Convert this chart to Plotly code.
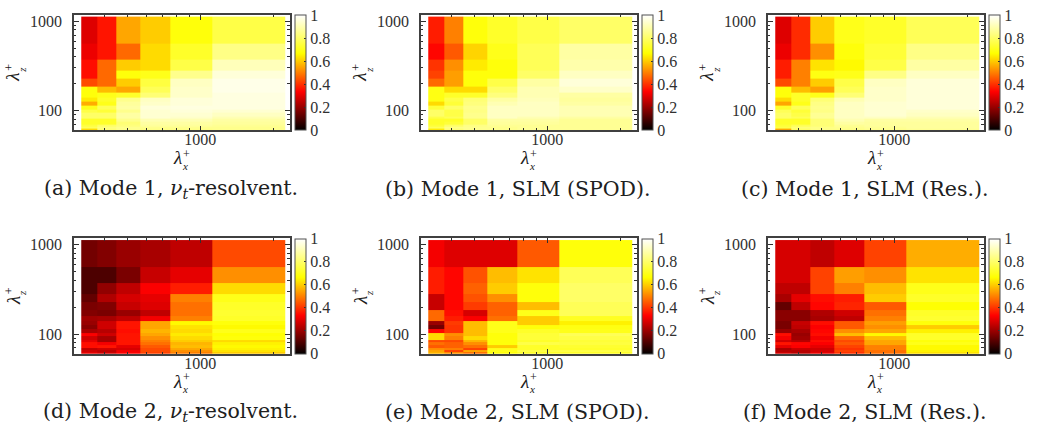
import plotly.graph_objects as go

x_edges = [321.4, 375, 450, 562.5, 750, 1125, 2250]
y_edges = [59.2, 62.5, 66.2, 70.3, 75, 80.4, 86.5, 93.8, 102.3, 112.5, 125, 140.6, 160.7, 187.5, 225, 281.3, 375, 562.5, 1125]

# rows listed from the top of each map (longest spanwise wavelength) downwards
mode1_resolvent = [
    [.29,.36,.55,.60,.68,.76],[.31,.36,.47,.62,.72,.84],[.35,.47,.60,.62,.76,.91],
    [.35,.47,.68,.70,.85,.95],[.43,.47,.60,.75,.92,.97],[.68,.58,.55,.78,.93,.97],
    [.68,.70,.72,.82,.93,.96],[.64,.72,.85,.92,.95,.96],[.56,.70,.87,.93,.95,.96],
    [.70,.78,.88,.95,.96,.96],[.76,.74,.85,.94,.95,.94],[.80,.80,.88,.94,.94,.92],
    [.80,.80,.88,.94,.93,.90],[.72,.72,.85,.90,.90,.88],[.72,.72,.82,.88,.88,.87],
    [.75,.80,.83,.87,.87,.86],[.78,.83,.85,.85,.85,.85],[.62,.82,.85,.84,.84,.85]]
mode1_slm_spod = [
    [.37,.50,.68,.72,.76,.80],[.34,.45,.61,.70,.78,.88],[.40,.52,.64,.68,.78,.89],
    [.42,.54,.68,.68,.80,.92],[.47,.54,.68,.76,.88,.95],[.69,.62,.62,.80,.90,.93],
    [.69,.72,.72,.83,.90,.88],[.69,.76,.82,.88,.91,.87],[.62,.74,.83,.90,.92,.88],
    [.74,.80,.85,.92,.92,.90],[.80,.76,.84,.92,.92,.90],[.80,.76,.85,.92,.92,.90],
    [.76,.78,.85,.92,.90,.88],[.72,.72,.80,.88,.88,.86],[.72,.74,.80,.87,.87,.86],
    [.74,.80,.84,.86,.86,.86],[.78,.84,.85,.85,.86,.86],[.64,.82,.85,.85,.86,.86]]
mode1_slm_res = [
    [.29,.39,.60,.70,.72,.78],[.31,.39,.52,.68,.74,.84],[.37,.50,.63,.66,.76,.88],
    [.37,.50,.69,.70,.84,.92],[.43,.50,.60,.76,.92,.95],[.68,.58,.54,.78,.93,.95],
    [.68,.72,.70,.82,.93,.95],[.62,.72,.82,.90,.93,.95],[.55,.70,.84,.92,.94,.95],
    [.72,.78,.85,.92,.94,.95],[.78,.74,.84,.92,.94,.93],[.80,.76,.86,.92,.94,.92],
    [.80,.78,.86,.92,.92,.90],[.72,.72,.82,.90,.88,.88],[.72,.72,.82,.88,.87,.87],
    [.74,.78,.82,.86,.87,.87],[.76,.82,.84,.85,.86,.87],[.55,.80,.84,.84,.85,.86]]
mode2_resolvent = [
    [.15,.17,.20,.22,.25,.43],[.10,.10,.16,.26,.30,.52],[.10,.19,.25,.33,.37,.62],
    [.13,.23,.28,.30,.50,.70],[.16,.17,.26,.29,.48,.72],[.17,.16,.20,.25,.48,.73],
    [.21,.22,.25,.32,.50,.72],[.20,.27,.36,.55,.66,.68],[.18,.27,.36,.55,.63,.66],
    [.22,.24,.35,.57,.62,.70],[.33,.27,.36,.55,.64,.67],[.27,.22,.36,.52,.62,.68],
    [.30,.22,.36,.50,.60,.62],[.35,.32,.36,.48,.57,.65],[.35,.36,.30,.45,.58,.66],
    [.25,.27,.28,.43,.55,.65],[.27,.25,.32,.43,.52,.63],[.30,.27,.33,.42,.50,.60]]
mode2_slm_spod = [
    [.32,.29,.29,.29,.45,.68],[.37,.34,.44,.58,.63,.78],[.37,.34,.46,.60,.68,.80],
    [.26,.34,.44,.52,.68,.80],[.26,.34,.41,.46,.58,.78],[.47,.35,.28,.46,.70,.78],
    [.47,.37,.33,.48,.60,.71],[.20,.41,.58,.70,.60,.65],[.15,.40,.58,.70,.68,.69],
    [.34,.40,.58,.70,.72,.70],[.62,.52,.58,.68,.74,.78],[.62,.50,.62,.68,.74,.76],
    [.43,.43,.57,.68,.72,.74],[.48,.46,.52,.68,.76,.75],[.45,.46,.48,.60,.72,.73],
    [.52,.50,.42,.70,.72,.72],[.55,.42,.55,.70,.76,.76],[.57,.52,.48,.68,.72,.72]]
mode2_slm_res = [
    [.28,.28,.25,.29,.42,.56],[.28,.28,.42,.54,.52,.63],[.25,.25,.42,.50,.58,.70],
    [.22,.30,.35,.37,.60,.72],[.13,.25,.34,.38,.45,.67],[.18,.18,.23,.27,.48,.72],
    [.18,.18,.22,.25,.50,.73],[.16,.26,.35,.45,.54,.68],[.16,.25,.33,.45,.52,.60],
    [.20,.22,.34,.52,.55,.65],[.35,.20,.35,.58,.66,.72],[.32,.21,.32,.47,.58,.72],
    [.27,.24,.35,.43,.55,.68],[.36,.34,.33,.45,.55,.70],[.30,.33,.30,.42,.50,.66],
    [.22,.26,.27,.40,.50,.66],[.24,.24,.28,.42,.48,.65],[.27,.24,.30,.40,.48,.63]]

captions = ["(a) Mode 1, <i>ν<sub>t</sub></i>-resolvent.", "(b) Mode 1, SLM (SPOD).", "(c) Mode 1, SLM (Res.).",
            "(d) Mode 2, <i>ν<sub>t</sub></i>-resolvent.", "(e) Mode 2, SLM (SPOD).", "(f) Mode 2, SLM (Res.)."]
panels = [mode1_resolvent, mode1_slm_spod, mode1_slm_res, mode2_resolvent, mode2_slm_spod, mode2_slm_res]

hot = [[0, "#000000"], [1/3, "#ff0000"], [2/3, "#ffff00"], [1, "#ffffff"]]
W, H = 1039, 425
FONT = "Liberation Serif"
CAPFONT = "DejaVu Serif"
INK = "#303030"
lefts = [74, 421, 768]
tops = [13, 237.5]
pw, ph = 215.5, 116

fig = go.Figure()
ann = []
def text(x, y, s, size, angle=0, family=FONT):
    ann.append(dict(x=x/W, y=1-y/H, xref="paper", yref="paper", text=s, showarrow=False,
                    font=dict(family=family, size=size, color="#202020"), textangle=angle,
                    xanchor="center", yanchor="middle", borderpad=0))

for i, z in enumerate(panels):
    r, c = divmod(i, 3)
    L, T = lefts[c], tops[r]
    n = "" if i == 0 else str(i+1)
    fig.add_trace(go.Heatmap(
        x=x_edges, y=y_edges, z=z[::-1], zmin=0, zmax=1, colorscale=hot,
        xaxis="x"+n, yaxis="y"+n, hoverinfo="skip",
        colorbar=dict(x=(L+pw+5.5)/W, xanchor="left", xpad=0, ypad=0, y=1-(T+ph/2)/H, yanchor="middle",
                      len=ph/H, lenmode="fraction", thickness=11, thicknessmode="pixels",
                      outlinecolor="#505050", outlinewidth=1, borderwidth=0,
                      tickvals=[0,.2,.4,.6,.8,1], ticktext=["0","0.2","0.4","0.6","0.8","1"],
                      ticks="inside", ticklen=2, tickcolor="#303030",
                      tickfont=dict(family=FONT, size=16, color=INK))))
    common = dict(type="log", showgrid=False, zeroline=False, showline=True, linecolor="#404040", linewidth=1.5,
                  mirror="ticks", ticks="inside", ticklen=5, tickwidth=1, tickcolor="#303030",
                  tickfont=dict(family=FONT, size=16, color=INK))
    fig.update_layout({
        "xaxis"+n: dict(common, domain=[L/W, (L+pw)/W], range=[2.477, 3.369], anchor="y"+n,
                        tickvals=[1000], ticktext=["1000"], ticklabelstandoff=-6,
                        minor=dict(tickvals=[400,500,600,700,800,900,2000], ticks="inside", ticklen=2.5, tickcolor="#303030")),
        "yaxis"+n: dict(common, domain=[1-(T+ph)/H, 1-T/H], range=[1.778, 3.07], anchor="x"+n,
                        tickvals=[100,1000], ticktext=["100","1000"], ticklabelstandoff=7,
                        minor=dict(tickvals=[60,70,80,90,200,300,400,500,600,700,800,900], ticks="inside", ticklen=2.5, tickcolor="#303030")),
    })
    # axis titles: lambda with stacked + and subscript
    text(L+103, T+143.5, "<i>λ</i>", 19)
    text(L+112, T+139.5, "+", 12)
    text(L+111, T+151.5, "<i>x</i>", 11)
    text(L-61, T+63, "<i>λ</i>", 19, -90)
    text(L-65, T+53, "+", 12, -90)
    text(L-52, T+55, "<i>z</i>", 11, -90)
    text(L+96.5, T+174.5, captions[i], 20.5, family=CAPFONT)

fig.update_layout(width=W, height=H, margin=dict(l=0, r=0, t=0, b=0), paper_bgcolor="white",
                  plot_bgcolor="white", annotations=ann, showlegend=False)
fig.write_html("out.html", config=dict(displayModeBar=False),
               post_script="document.body.style.margin='0';document.body.style.overflow='hidden';")
